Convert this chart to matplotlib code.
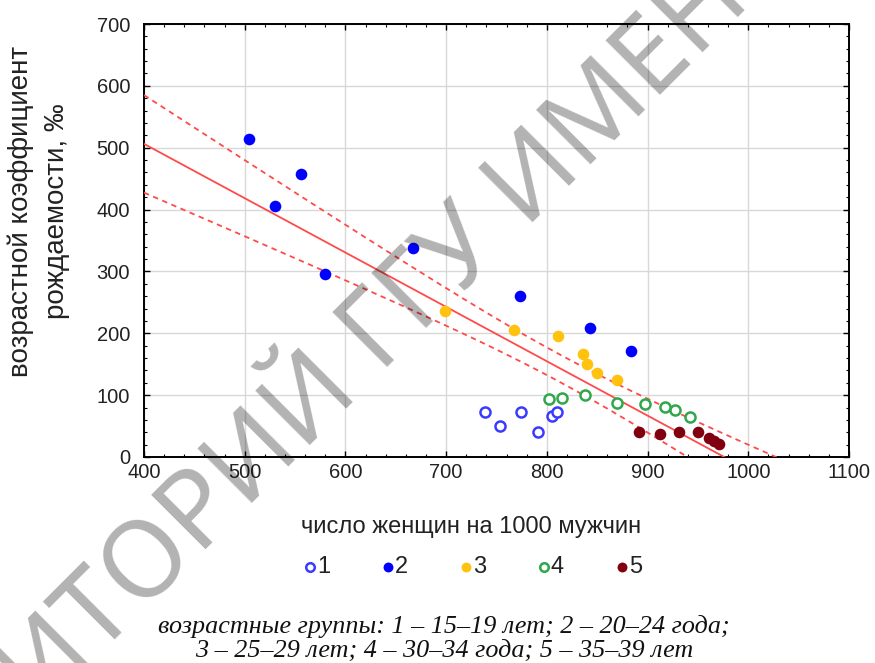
import numpy as np
import matplotlib
matplotlib.use('Agg')
import matplotlib.pyplot as plt
from matplotlib.ticker import MultipleLocator


# values (women per 1000 men, age-specific fertility rate)
g1_x = [739, 753, 774, 791, 805, 810]
g1_y = [73, 50, 73, 40, 66, 72]
g2_x = [504, 530, 556, 580, 667, 773, 843, 884]
g2_y = [514, 405, 457, 296, 338, 261, 208, 172]
g3_x = [699, 767, 811, 836, 840, 850, 870]
g3_y = [236, 205, 195, 166, 151, 135, 125]
g4_x = [802, 815, 838, 870, 897, 917, 927, 942]
g4_y = [94, 95, 101, 88, 85, 81, 76, 64]
g5_x = [891, 912, 931, 950, 961, 966, 971]
g5_y = [40, 37, 40, 40, 31, 26, 21]

labels = ['1', '2', '3', '4', '5']
x_ticks = [400, 500, 600, 700, 800, 900, 1000, 1100]
y_ticks = [0, 100, 200, 300, 400, 500, 600, 700]

W, H = 875, 663
RED = '#ff4a4a'

fig = plt.figure(figsize=(W / 100, H / 100), dpi=100)
ax = fig.add_axes([144 / W, 1 - 457 / H, (849 - 144) / W, (457 - 24) / H])

# linear fit with 95% confidence band
xs = np.concatenate([g1_x, g2_x, g3_x, g4_x, g5_x]).astype(float)
ys = np.concatenate([g1_y, g2_y, g3_y, g4_y, g5_y]).astype(float)
n = len(xs)
b, a = np.polyfit(xs, ys, 1)
resid = ys - (a + b * xs)
s = np.sqrt(np.sum(resid ** 2) / (n - 2))
mx = xs.mean()
sxx = np.sum((xs - mx) ** 2)
xx = np.linspace(x_ticks[0], x_ticks[-1], 300)
yy = a + b * xx
se = s * np.sqrt(1 / n + (xx - mx) ** 2 / sxx)
t = 2.03

ax.plot(xx, yy, color=RED, lw=1.3, zorder=3)
ax.plot(xx, yy + t * se, color=RED, lw=1.3, ls=(0, (3, 2.5)), zorder=3)
ax.plot(xx, yy - t * se, color=RED, lw=1.3, ls=(0, (3, 2.5)), zorder=3)

sz = 70
ax.scatter(g1_x, g1_y, s=sz * 0.75, facecolor='white', edgecolor='#3b3bff', linewidth=1.8, zorder=4, label=labels[0])
ax.scatter(g2_x, g2_y, s=sz, color='#0000ff', linewidth=0, zorder=4, label=labels[1])
ax.scatter(g3_x, g3_y, s=sz, color='#ffc20e', linewidth=0, zorder=4, label=labels[2])
ax.scatter(g4_x, g4_y, s=sz * 0.75, facecolor='white', edgecolor='#2ea84a', linewidth=1.8, zorder=4, label=labels[3])
ax.scatter(g5_x, g5_y, s=sz, color='#800010', linewidth=0, zorder=4, label=labels[4])

ax.set_xlim(x_ticks[0], x_ticks[-1])
ax.set_ylim(y_ticks[0], y_ticks[-1])
ax.set_xticks(x_ticks)
ax.set_yticks(y_ticks)
ax.xaxis.set_minor_locator(MultipleLocator(20))
ax.yaxis.set_minor_locator(MultipleLocator(20))
ax.grid(True, which='major', color='#d8d8d8', lw=1.0, zorder=0)
ax.set_axisbelow(True)
ax.tick_params(which='both', direction='in', top=True, right=True, color='black')
ax.tick_params(which='major', length=4, width=1.0)
ax.tick_params(which='minor', length=2.5, width=0.8)
ax.tick_params(axis='x', which='major', pad=4, labelsize=14.5)
ax.tick_params(axis='y', which='major', pad=10, labelsize=14.5)
for lab in ax.get_xticklabels() + ax.get_yticklabels():
    lab.set_family('Liberation Sans')
    lab.set_color('#222222')
for sp in ax.spines.values():
    sp.set_linewidth(1.4)

fig.text(471 / W, 1 - 527 / H, 'число женщин на 1000 мужчин', ha='center', va='center',
         fontsize=17, family='Liberation Sans', color='#222222')
fig.text(21 / W, 1 - 211 / H, 'возрастной коэффициент', ha='center', va='center',
         rotation=90, fontsize=20, family='Liberation Sans', color='#222222')
fig.text(57 / W, 1 - 211 / H, 'рождаемости, ‰', ha='center', va='center',
         rotation=90, fontsize=20, family='Liberation Sans', color='#222222')

leg = fig.legend(loc='center', bbox_to_anchor=(473 / W, 1 - 567 / H), ncol=5, frameon=False,
                 handlelength=0.5, handletextpad=0.05, columnspacing=2.2, markerscale=0.85,
                 prop={'family': 'Liberation Sans', 'size': 17})
for txt in leg.get_texts():
    txt.set_color('#222222')

fig.text(444 / W, 1 - 627 / H, 'возрастные группы: 1 – 15–19 лет; 2 – 20–24 года;', ha='center',
         va='center', fontsize=18.8, family='Liberation Serif', style='italic', color='#111111')
fig.text(444 / W, 1 - 651 / H, '3 – 25–29 лет; 4 – 30–34 года; 5 – 35–39 лет', ha='center',
         va='center', fontsize=18.8, family='Liberation Serif', style='italic', color='#111111')

# repository watermark stamped across the picture
fig.text(534 / W, 1 - 182 / H, 'РЕПОЗИТОРИЙ ГГУ ИМЕНИ Ф. СКОРИНЫ', ha='center', va='center',
         rotation=45, rotation_mode='anchor', fontsize=78, fontstretch='condensed', fontweight=200,
         family='Noto Sans', color='black', alpha=0.3, zorder=10)

fig.savefig('out.png', dpi=100)
